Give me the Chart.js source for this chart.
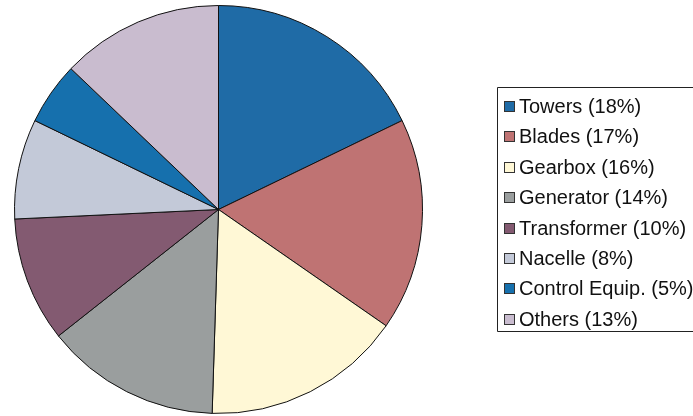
<!DOCTYPE html>
<html>
<head>
<meta charset="utf-8">
<script src="https://cdn.jsdelivr.net/npm/chart.js@4"></script>
<style>
  html, body { margin: 0; padding: 0; background: #ffffff; }
  #wrap { width: 693px; height: 416px; position: relative; }
</style>
</head>
<body>
<div id="wrap"><canvas id="pieChart" width="693" height="416"></canvas></div>
<script>
// Chart data
const categories = ['Towers', 'Blades', 'Gearbox', 'Generator', 'Transformer', 'Nacelle', 'Control Equip.', 'Others'];
const shares = [18, 17, 16, 14, 10, 8, 5, 13];
const sliceColors = ['#1f6ba6', '#bf7373', '#fff8d6', '#9a9e9e', '#835a71', '#c3c9d8', '#1670ad', '#c9bccf'];

// Legend drawn inside a bordered box to the right of the pie
const boxLegend = {
  id: 'boxLegend',
  afterDraw(chart) {
    const ctx = chart.ctx;
    const labels = chart.data.labels;
    const colors = chart.data.datasets[0].backgroundColor;
    const values = chart.data.datasets[0].data;
    const left = 497, top = 87, bottom = 331, rowH = 30.4;

    ctx.save();
    ctx.strokeStyle = '#222222';
    ctx.lineWidth = 1;
    ctx.beginPath();
    ctx.moveTo(700, top + 0.5);
    ctx.lineTo(left + 0.5, top + 0.5);
    ctx.lineTo(left + 0.5, bottom + 0.5);
    ctx.lineTo(700, bottom + 0.5);
    ctx.stroke();

    ctx.font = '20px "Liberation Sans", Arial, sans-serif';
    ctx.textBaseline = 'middle';
    labels.forEach((label, i) => {
      const cy = 106.5 + i * rowH;
      ctx.fillStyle = colors[i];
      ctx.fillRect(504, Math.round(cy - 5.5), 11, 11);
      ctx.strokeStyle = '#333333';
      ctx.strokeRect(504.5, Math.round(cy - 5.5) + 0.5, 10, 10);
      ctx.fillStyle = '#111111';
      ctx.fillText(label + ' (' + values[i] + '%)', 519, cy + 1);
    });
    ctx.restore();
  }
};

new Chart(document.getElementById('pieChart'), {
  type: 'pie',
  data: {
    labels: categories,
    datasets: [{
      data: shares,
      backgroundColor: sliceColors,
      borderColor: '#111111',
      borderWidth: 1
    }]
  },
  options: {
    responsive: false,
    animation: false,
    layout: { padding: { left: 14, right: 270, top: 5, bottom: 2 } },
    plugins: {
      legend: { display: false },
      tooltip: { enabled: false }
    }
  },
  plugins: [boxLegend]
});
</script>
</body>
</html>
